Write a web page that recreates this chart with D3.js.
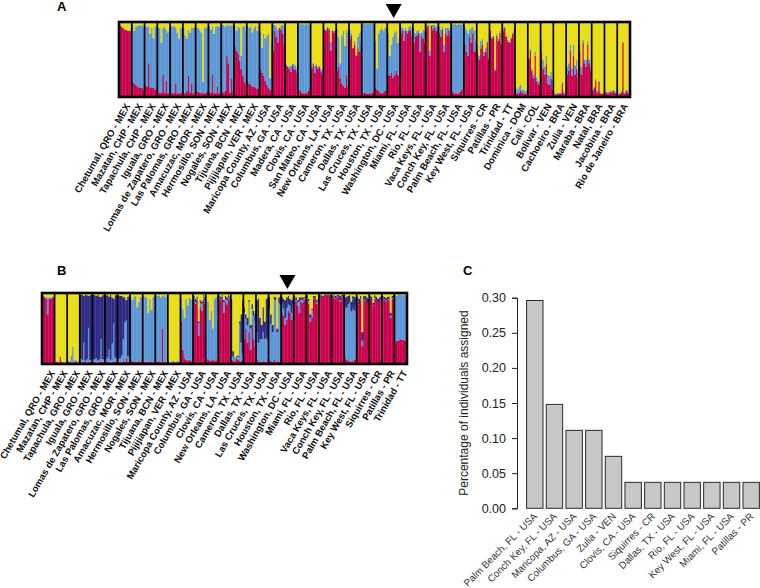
<!DOCTYPE html>
<html><head><meta charset="utf-8">
<script src="https://cdn.jsdelivr.net/npm/d3@7"></script>
<style>html,body{margin:0;background:#fff}svg{display:block}text{font-family:"Liberation Sans",Arial,sans-serif}</style>
</head><body><svg id="c" width="760" height="588"></svg>
<script>
const sitesA = ["Chetumal, QRO - MEX","Mazatan, CHP - MEX","Tapachula, CHP - MEX","Iguala, GRO - MEX","Lomas de Zapatero, GRO - MEX","Las Palomas, GRO - MEX","Amacuzac, MOR - MEX","Hermosillo, SON - MEX","Nogales, SON - MEX","Tijuana, BCN - MEX","Pijijiapan, VER - MEX","Maricopa County, AZ - USA","Columbus, GA - USA","Madera, CA - USA","Clovis, CA - USA","San Mateo, CA - USA","New Orleans, LA - USA","Cameron, TX - USA","Dallas, TX - USA","Las Cruces, TX - USA","Houston, TX - USA","Washington, DC - USA","Miami, FL - USA","Rio, FL - USA","Vaca Keys, FL - USA","Conch Key, FL - USA","Palm Beach, FL - USA","Key West, FL - USA","Siquirres - CR","Patillas - PR","Trinidad - TT","Dominica - DOM","Cali - COL","Bolivar - VEN","Cachoeiro - BRA","Zulia - VEN","Maraba - BRA","Natal, BRA","Jacobina - BRA","Rio de Janeiro - BRA"];
const redA = [
[96,94,92,90,90,88,88,90],[20,18,16,14,13,12,12,10],[16,14,45,13,12,12,10,12],[7,6,6,30,6,22,5,6],[5,6,5,18,5,5,6,5],
[5,6,8,28,6,18,5,6],[8,7,6,6,5,5,6,8],[6,6,30,6,5,14,5,6],[7,6,8,55,45,6,25,8],[68,62,58,48,38,28,20,16],
[20,18,16,14,14,12,11,12],[38,32,28,22,16,12,10,8],[62,88,80,72,92,90,85,70],[42,40,38,34,42,38,36,32],[10,8,6,5,5,6,8,12],
[38,44,32,42,38,40,34,30],[90,88,92,90,62,88,86,88],[35,40,25,18,15,12,30,15],[78,82,75,70,68,65,60,72],[5,6,5,4,4,5,6,8],
[12,10,8,6,5,6,8,10],[30,28,32,26,30,35,30,28],[85,88,75,88,85,90,88,80],[72,80,82,85,60,80,78,72],[92,95,55,95,90,92,88,90],
[85,80,90,60,85,82,88,80],[8,6,5,4,5,7,10,14],[70,60,55,80,72,85,60,62],[58,50,65,70,55,60,72,50],[88,78,80,35,82,75,85,70],
[88,92,80,74,72,78,84,92],[5,4,6,8,6,4,5,4],[50,62,35,25,55,20,18,15],[60,38,30,45,18,16,24,10],[3,3,4,4,4,18,5,3],
[30,35,62,28,55,30,38,25],[60,30,72,45,40,70,45,35],[8,12,22,6,20,5,4,4],[6,5,5,7,6,8,6,5],[3,4,6,72,4,8,6,4]];
const yellowA = [
[4,6,8,10,10,12,12,10],[4,12,6,5,4,5,4,8],[5,6,6,16,8,22,6,5],[8,8,28,8,6,10,14,8],[5,6,5,8,14,22,8,5],
[8,18,22,10,14,8,8,6],[6,8,10,14,80,8,6,8],[5,10,6,16,6,5,6,7],[4,4,6,4,5,4,5,3],[6,12,6,8,45,6,5,12],
[5,8,6,14,8,5,12,5],[14,34,16,22,18,16,75,28],[4,4,6,10,8,4,4,6],[56,58,60,58,55,56,58,62],[3,3,2,3,3,2,3,3],
[60,54,58,56,60,58,62,64],[8,10,6,8,26,10,12,10],[8,20,55,18,12,32,10,14],[10,15,35,25,45,20,15,12],[2,2,3,2,2,3,2,2],
[25,62,15,10,8,12,8,6],[15,45,30,20,14,12,28,20],[5,8,10,8,12,6,5,8],[8,15,12,10,15,14,10,12],[4,3,38,4,4,4,6,5],
[6,10,6,30,8,8,8,10],[3,3,2,4,2,3,3,3],[6,10,15,10,8,6,12,25],[30,45,25,22,40,35,25,48],[10,20,18,62,16,22,12,28],
[8,6,18,24,26,20,14,6],[88,90,86,84,90,90,92,92],[48,36,62,70,40,74,78,80],[25,50,60,45,70,72,66,78],[95,95,94,95,94,80,93,96],
[60,55,30,62,30,58,50,68],[30,60,24,50,50,25,50,60],[90,86,76,92,78,94,95,95],[92,93,93,91,92,90,92,94],[95,94,92,26,94,90,92,95]];
const sitesB = ["Chetumal, QRO - MEX","Mazatan, CHP - MEX","Tapachula, GRO - MEX","Iguala, GRO - MEX","Lomas de Zapatero, GRO - MEX","Las Palomas, GRO - MEX","Amacuzac, MOR - MEX","Hermosillo, SON - MEX","Nogales, SON - MEX","Tijuana, BCN - MEX","Pijijiapan, VER - MEX","Maricopa County, AZ - USA","Columbus, GA - USA","Clovis, CA - USA","New Orleans, LA - USA","Cameron, TX - USA","Dallas, TX - USA","Las Cruces, TX - USA","Houston, TX - USA","Washington, DC - USA","Miami, FL - USA","Rio, FL - USA","Vaca Keys, FL - USA","Conch Key, FL - USA","Palm Beach, FL - USA","Key West, FL - USA","Siquirres - CR","Patillas - PR","Trinidad - TT"];
const redB = [
[96,95,92,70,92,92,94,95],[2,3,2,10,3,2,2,2],[3,3,2,2,3,4,2,2],[4,3,3,5,2,3,3,3],[3,3,2,2,4,3,3,3],
[3,4,3,2,3,3,3,4],[3,3,2,5,3,8,3,3],[5,4,3,3,3,4,3,5],[3,3,3,3,3,4,3,2],[4,3,4,3,50,3,3,3],
[2,2,2,3,2,2,3,2],[60,20,8,6,5,6,5,5],[88,85,90,40,80,75,92,85],[8,6,5,5,6,5,5,8],[92,90,94,72,88,84,92,90],
[6,5,4,8,6,5,4,6],[35,50,30,45,20,55,35,25],[6,4,3,3,4,3,3,4],[5,4,3,6,3,4,3,5],[72,68,55,62,75,72,62,66],
[92,88,82,72,88,86,90,92],[92,85,60,65,92,90,85,86],[96,97,94,96,97,96,97,94],[92,95,92,94,96,88,94,94],[10,6,5,4,3,4,6,8],
[88,84,90,25,90,90,86,86],[92,90,82,92,90,86,90,92],[92,90,88,90,90,65,92,92],[32,33,33,35,34,34,33,35]];
const navyB = [
[0,0,0,0,0,0,0,0],[0,0,0,0,0,0,0,0],[0,0,0,0,0,0,0,0],[90,92,66,93,90,45,92,90],[92,90,88,93,88,60,90,92],
[90,88,74,92,65,35,88,90],[90,88,84,60,35,28,84,86],[0,0,0,0,0,0,0,0],[0,0,0,0,0,0,0,0],[0,0,0,0,0,0,0,0],
[0,0,0,0,0,0,0,0],[0,0,0,0,0,0,0,0],[3,5,3,2,4,3,2,3],[0,0,0,0,0,0,0,0],[3,4,2,3,5,4,3,3],
[80,8,0,0,2,3,40,75],[8,6,10,3,5,8,6,10],[45,62,30,20,35,25,55,60],[18,14,10,4,4,5,8,12],[10,14,25,15,12,10,18,14],
[2,4,3,6,3,4,2,3],[4,3,5,2,3,6,3,3],[2,0,2,2,1,2,1,3],[3,2,3,2,2,6,3,3],[14,16,12,10,14,18,20,12],
[6,8,5,12,6,5,8,6],[3,5,3,4,5,6,4,4],[3,4,4,4,4,4,3,4],[0,0,0,0,0,0,0,0]];
const yellowB = [
[4,5,6,6,6,6,6,5],[97,96,97,89,96,97,97,97],[95,96,88,76,95,94,96,96],[2,2,4,2,3,4,3,3],[2,3,4,2,5,5,3,2],
[3,3,5,2,6,8,3,3],[3,4,4,5,6,10,5,4],[6,10,5,4,20,12,5,6],[4,5,6,28,8,24,5,4],[3,4,3,6,4,3,5,3],
[96,97,96,95,97,96,95,97],[6,22,35,8,18,6,8,10],[4,8,5,40,10,12,3,6],[4,12,38,25,50,8,6,4],[3,5,3,10,4,6,3,5],
[8,82,90,88,88,40,30,10],[20,30,35,10,45,15,25,30],[10,8,35,45,20,40,8,6],[5,30,45,5,6,50,6,4],[5,8,10,6,4,8,10,6],
[4,6,10,6,6,6,6,4],[3,8,30,22,4,4,10,8],[2,3,4,2,2,2,2,3],[4,2,4,3,2,4,2,3],[6,5,4,3,12,4,5,6],
[5,8,4,55,4,4,6,8],[4,5,14,3,5,8,6,4],[4,5,7,5,5,28,4,3],[3,4,2,2,3,2,3,4]];
const sitesC = ["Palm Beach, FL - USA","Conch Key, FL - USA","Maricopa, AZ - USA","Columbus, GA - USA","Zulia - VEN","Clovis, CA - USA","Siquirres - CR","Dallas, TX - USA","Rio, FL - USA","Key West, FL - USA","Miami, FL - USA","Patillas - PR"];
const assigned = [0.296,0.148,0.111,0.111,0.074,0.037,0.037,0.037,0.037,0.037,0.037,0.037];
const ticksC = [0,0.05,0.10,0.15,0.20,0.25,0.30];
const clusterColors = {red:"#c8044e",blue:"#5b96d6",navy:"#2d2a84",yellow:"#e9dd14"};

const svg = d3.select("#c");
const defs = svg.append("defs");
defs.append("filter").attr("id","soft").attr("x","-2%").attr("y","-5%").attr("width","104%").attr("height","110%")
  .append("feGaussianBlur").attr("stdDeviation","0.7 0.3");
defs.append("filter").attr("id","edge").attr("x","-2%").attr("y","-5%").attr("width","104%").attr("height","110%")
  .append("feGaussianBlur").attr("stdDeviation",0.3);

function structure(g, sites, rows, box, arrowSite){
  const keys = Object.keys(rows[0][0]);
  const xOuter = d3.scaleBand().domain(sites).range([box.x0,box.x1]);
  const y = d3.scaleLinear().domain([0,100]).range([box.y1,box.y0]);
  const stack = d3.stack().keys(keys);
  const plot = g.append("g").attr("filter","url(#soft)");
  sites.forEach((s,i)=>{
    const xIn = d3.scaleBand().domain(d3.range(rows[i].length)).range([xOuter(s),xOuter(s)+xOuter.bandwidth()]);
    const series = stack(rows[i]);
    plot.append("g").selectAll("g").data(series).join("g").attr("fill",d=>clusterColors[d.key])
      .selectAll("rect").data(d=>d.map((v,j)=>({v,j}))).join("rect")
      .attr("x",d=>xIn(d.j)).attr("width",xIn.bandwidth()+0.3)
      .attr("y",d=>y(d.v[1])).attr("height",d=>Math.max(0,y(d.v[0])-y(d.v[1])));
  });
  const edges = g.append("g").attr("filter","url(#edge)");
  edges.append("g").selectAll("line").data(sites.slice(1)).join("line")
    .attr("x1",d=>xOuter(d)).attr("x2",d=>xOuter(d)).attr("y1",box.y0).attr("y2",box.y1)
    .attr("stroke","#000").attr("stroke-width",1.7);
  edges.append("rect").attr("x",box.x0).attr("y",box.y0).attr("width",box.x1-box.x0).attr("height",box.y1-box.y0)
    .attr("fill","none").attr("stroke","#000").attr("stroke-width",2.6);
  const c = xOuter(arrowSite)+xOuter.bandwidth()/2;
  g.append("path").attr("d",d3.line()([[c-8,box.y0-18],[c+8,box.y0-18],[c,box.y0-4]])+"Z").attr("fill","#000");
  g.append("g").selectAll("text").data(sites).join("text")
    .attr("transform",d=>`translate(${xOuter(d)+xOuter.bandwidth()/2+box.dx},${box.y1+9}) rotate(-60)`)
    .attr("text-anchor","end").attr("font-size",box.font).attr("font-weight","bold").attr("fill","#111").text(d=>d);
}
const rowsA = sitesA.map((_,i)=>redA[i].map((r,j)=>({red:r,blue:100-r-yellowA[i][j],yellow:yellowA[i][j]})));
const rowsB = sitesB.map((_,i)=>redB[i].map((r,j)=>{
  const n=navyB[i][j], yy=yellowB[i][j];
  return {red:r,blue:Math.max(0,100-r-n-yy),navy:n,yellow:yy};
}));
structure(svg.append("g"),sitesA,rowsA,{x0:119,x1:630,y0:22,y1:97,font:9.7,dx:5},"Washington, DC - USA");
structure(svg.append("g"),sitesB,rowsB,{x0:42,x1:407,y0:293,y1:364,font:9.6,dx:7},"Washington, DC - USA");

// Panel C
const xC = d3.scalePoint().domain(sitesC).range([534.8,751.2]);
const yC = d3.scaleLinear().domain([0,0.30]).range([508.3,297.7]);
const gC = svg.append("g");
gC.selectAll("rect").data(assigned).join("rect")
  .attr("x",(d,i)=>xC(sitesC[i])-8.2).attr("width",16.4)
  .attr("y",d=>yC(d)).attr("height",d=>yC(0)-yC(d))
  .attr("fill","#c8c8c8").attr("stroke","#2a2a2a").attr("stroke-width",1);
const ax = gC.append("g").attr("transform","translate(517,0)")
  .call(d3.axisLeft(yC).tickValues(ticksC).tickFormat(d3.format(".2f")).tickSize(5).tickPadding(6));
ax.selectAll("path,line").attr("stroke","#222").attr("stroke-width",1);
ax.selectAll("text").attr("font-size",12.5).attr("fill","#222").attr("font-family",'"Liberation Sans"');
gC.append("text").attr("transform","translate(468,403) rotate(-90)").attr("text-anchor","middle")
  .attr("font-size",12).attr("fill","#222").text("Percentage of individuals assigned");
gC.selectAll("text.xl").data(sitesC).join("text").attr("class","xl")
  .attr("transform",d=>`translate(${xC(d)+3},${517}) rotate(-45)`)
  .attr("text-anchor","end").attr("font-size",9.9).attr("fill","#333").text(d=>d);

const panelLetters = [["A",57,11],["B",57,275],["C",463,275]];
svg.append("g").selectAll("text").data(panelLetters).join("text")
  .attr("x",d=>d[1]).attr("y",d=>d[2]).attr("font-size",13).attr("font-weight","bold").attr("fill","#000").text(d=>d[0]);
</script></body></html>
